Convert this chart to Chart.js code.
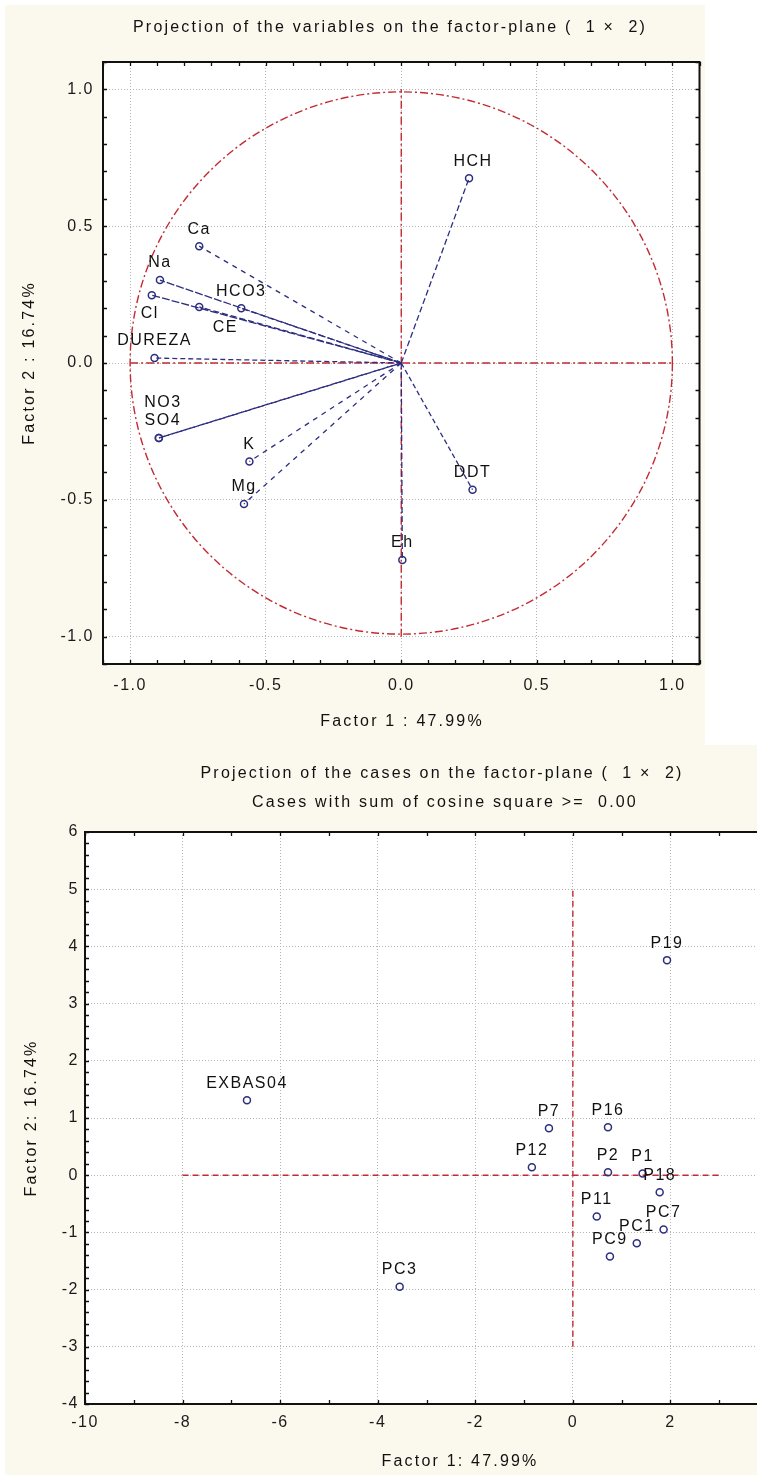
<!DOCTYPE html>
<html>
<head>
<meta charset="utf-8">
<script src="https://cdn.jsdelivr.net/npm/chart.js@4.4.1/dist/chart.umd.min.js"></script>
<style>
  html, body { margin: 0; padding: 0; background: #fff; width: 757px; height: 1475px; overflow: hidden; }
  .panel { position: absolute; background: #fbf9ee; }
  #p1 { left: 5px; top: 5px; width: 700px; height: 740px; }
  #p2 { left: 5px; top: 745px; width: 790px; height: 730px; }
  canvas { display: block; }
</style>
</head>
<body>
<div class="panel" id="p1"><canvas id="c1" width="700" height="740"></canvas></div>
<div class="panel" id="p2"><canvas id="c2" width="790" height="730"></canvas></div>
<script>
// ---- Variables: loadings on factor 1 and factor 2 ----
const varNames = ['HCH', 'Ca', 'Na', 'HCO3', 'Cl', 'CE', 'DUREZA', 'NO3', 'SO4', 'K', 'Mg', 'Eh', 'DDT'];
const varF1 = [0.25, -0.745, -0.89, -0.59, -0.92, -0.745, -0.91, -0.894, -0.894, -0.56, -0.58, 0.004, 0.263];
const varF2 = [0.675, 0.427, 0.303, 0.20, 0.248, 0.205, 0.018, -0.274, -0.274, -0.36, -0.515, -0.72, -0.463];
const loadTicks = [-1.0, -0.5, 0.0, 0.5, 1.0];
const loadRange = [-1.1, 1.1];
const unitCircleRadius = 1;
const loadAxisSpan = [-1, 1];

// ---- Cases: scores on factor 1 and factor 2 ----
const caseNames = ['P19', 'EXBAS04', 'P7', 'P16', 'P12', 'P2', 'P1', 'P18', 'P11', 'PC7', 'PC1', 'PC9', 'PC3'];
const caseF1 = [1.93, -6.68, -0.49, 0.72, -0.84, 0.72, 1.43, 1.78, 0.49, 1.86, 1.31, 0.76, -3.55];
const caseF2 = [3.76, 1.31, 0.82, 0.84, 0.14, 0.05, 0.03, -0.30, -0.72, -0.95, -1.19, -1.42, -1.95];
const scoreXTicks = [-10, -8, -6, -4, -2, 0, 2, 4];
const scoreYTicks = [-4, -3, -2, -1, 0, 1, 2, 3, 4, 5, 6];
const scoreXRange = [-10, 4];
const scoreYRange = [-4, 6];
const scoreHLine = [-8, 3];   // horizontal origin line, x from..to
const scoreVLine = [-3, 5];   // vertical origin line, y from..to

const FONT = '"Liberation Sans", Arial, sans-serif';
const NAVY = '#2c2e80';
const RED = '#c42a33';
const INK = '#111111';

// label placement (pixels, relative to the point)
const varLabelOffset = {
  HCH: [4, -17], Cl: [-2, 18], CE: [26, 21], NO3: [4, -35], SO4: [4, -17]
};
const varDash = {
  Na: [8, 2], Cl: [8, 2], HCO3: [6, 3], CE: [6, 3], NO3: [6, 3], SO4: [6, 3],
  Ca: [5, 5], K: [5, 5], Mg: [5, 5], HCH: [6, 3], DDT: [5, 3], Eh: [6, 3], DUREZA: [5, 3]
};
const varDashOffset = { SO4: 4.5 };

// white plot area + tick label letter spacing
const plotBg = {
  id: 'plotBg',
  beforeDraw(chart) {
    const { ctx, chartArea: a } = chart;
    ctx.save();
    ctx.fillStyle = '#ffffff';
    ctx.fillRect(a.left, a.top, a.right - a.left, a.bottom - a.top);
    ctx.restore();
    ctx.letterSpacing = '1.5px';
  }
};

// frame around the plot with inward minor ticks on all sides
const frame = {
  id: 'frame',
  afterDraw(chart, args, o) {
    const { ctx, chartArea: a, scales: { x, y } } = chart;
    ctx.save();
    ctx.strokeStyle = '#111';
    ctx.lineWidth = 1.3;
    ctx.beginPath();
    const sx = Math.ceil(x.min / o.xStep - 1e-6);
    const ex = Math.floor(x.max / o.xStep + 1e-6);
    for (let k = sx; k <= ex; k++) {
      const px = Math.round(x.getPixelForValue(k * o.xStep)) + 0.5;
      ctx.moveTo(px, a.top); ctx.lineTo(px, a.top + o.len);
      ctx.moveTo(px, a.bottom); ctx.lineTo(px, a.bottom - o.len);
    }
    const sy = Math.ceil(y.min / o.yStep - 1e-6);
    const ey = Math.floor(y.max / o.yStep + 1e-6);
    for (let k = sy; k <= ey; k++) {
      const py = Math.round(y.getPixelForValue(k * o.yStep)) + 0.5;
      ctx.moveTo(a.left, py); ctx.lineTo(a.left + o.len, py);
      ctx.moveTo(a.right, py); ctx.lineTo(a.right - o.len, py);
    }
    ctx.stroke();
    ctx.lineWidth = 2;
    ctx.strokeRect(a.left, a.top, a.right - a.left, a.bottom - a.top);
    ctx.restore();
  }
};

// red origin lines and (optionally) the unit circle
const refLines = {
  id: 'refLines',
  beforeDatasetsDraw(chart, args, o) {
    const { ctx, scales: { x, y } } = chart;
    ctx.save();
    ctx.strokeStyle = RED;
    ctx.lineWidth = o.width;
    ctx.setLineDash(o.dash);
    ctx.beginPath();
    ctx.moveTo(x.getPixelForValue(o.h[0]), y.getPixelForValue(0));
    ctx.lineTo(x.getPixelForValue(o.h[1]), y.getPixelForValue(0));
    ctx.stroke();
    ctx.beginPath();
    ctx.moveTo(x.getPixelForValue(0), y.getPixelForValue(o.v[0]));
    ctx.lineTo(x.getPixelForValue(0), y.getPixelForValue(o.v[1]));
    ctx.stroke();
    if (o.circle) {
      const cx = x.getPixelForValue(0), cy = y.getPixelForValue(0);
      const r = x.getPixelForValue(o.circle) - cx;
      ctx.beginPath();
      ctx.arc(cx, cy, r, 0, Math.PI * 2);
      ctx.stroke();
    }
    ctx.restore();
  }
};

// point names
const pointNames = {
  id: 'pointNames',
  afterDatasetsDraw(chart, args, o) {
    const { ctx } = chart;
    ctx.save();
    ctx.font = `16px ${FONT}`;
    ctx.letterSpacing = '1.5px';
    ctx.fillStyle = INK;
    ctx.textAlign = 'center';
    ctx.textBaseline = 'middle';
    o.items(chart).forEach(({ el, name }) => {
      const off = (o.offsets && o.offsets[name]) || [0, -17];
      ctx.fillText(name, el.x + off[0], el.y + off[1]);
    });
    ctx.restore();
  }
};

// titles and axis titles
const captions = {
  id: 'captions',
  afterDraw(chart, args, o) {
    const ctx = chart.ctx;
    o.items.forEach(it => {
      ctx.save();
      ctx.font = `16px ${FONT}`;
      ctx.letterSpacing = '2.2px';
      ctx.fillStyle = INK;
      ctx.textAlign = 'center';
      ctx.textBaseline = 'middle';
      ctx.translate(it.x, it.y);
      if (it.rotate) ctx.rotate(it.rotate);
      ctx.fillText(it.text, 0, 0);
      ctx.restore();
    });
  }
};

function axis(range, ticks, extra) {
  return Object.assign({
    type: 'linear',
    min: range[0],
    max: range[1],
    afterBuildTicks: s => { s.ticks = ticks.map(v => ({ value: v })); },
    grid: { color: '#b4b4b4', lineWidth: 1, drawTicks: false },
    border: { display: false, dash: [1, 2] }
  }, extra);
}

const tickFont = { family: FONT, size: 16 };

// ---- Chart 1: projection of the variables ----
new Chart(document.getElementById('c1'), {
  type: 'scatter',
  data: {
    datasets: varNames.map((n, i) => ({
      label: n,
      data: [{ x: 0, y: 0 }, { x: varF1[i], y: varF2[i] }],
      showLine: true,
      borderColor: NAVY,
      borderWidth: 1.3,
      borderDash: varDash[n] || [5, 3],
      borderDashOffset: varDashOffset[n] || 0,
      pointRadius: [0, 3.5],
      pointBorderColor: NAVY,
      pointBackgroundColor: 'rgba(0,0,0,0)',
      pointBorderWidth: 1.5
    }))
  },
  options: {
    responsive: false,
    devicePixelRatio: 1,
    animation: false,
    layout: { padding: { top: 57, right: 0, left: 0, bottom: 0 } },
    scales: {
      x: axis(loadRange, loadTicks, {
        afterFit: s => { s.height = 81; },
        ticks: { font: tickFont, color: '#1a1a1a', padding: 12, maxRotation: 0, callback: v => v.toFixed(1) }
      }),
      y: axis(loadRange, loadTicks, {
        afterFit: s => { s.width = 98; },
        ticks: { font: tickFont, color: '#1a1a1a', padding: 9, callback: v => v.toFixed(1) }
      })
    },
    plugins: {
      legend: { display: false },
      tooltip: { enabled: false },
      refLines: { h: loadAxisSpan, v: loadAxisSpan, circle: unitCircleRadius, dash: [8, 3, 2, 3], width: 1.4 },
      frame: { xStep: 0.1, yStep: 0.1, len: 4 },
      pointNames: {
        offsets: varLabelOffset,
        items: chart => chart.data.datasets.map((d, i) => ({ el: chart.getDatasetMeta(i).data[1], name: d.label }))
      },
      captions: {
        items: [
          { text: 'Projection of the variables on the factor-plane (  1 \u00d7  2)', x: 385, y: 23 },
          { text: 'Factor 1 : 47.99%', x: 397, y: 717 },
          { text: 'Factor 2 : 16.74%', x: 25, y: 358, rotate: -Math.PI / 2 }
        ]
      }
    }
  },
  plugins: [plotBg, refLines, pointNames, frame, captions]
});

// ---- Chart 2: projection of the cases ----
new Chart(document.getElementById('c2'), {
  type: 'scatter',
  data: {
    datasets: [{
      label: 'Cases',
      data: caseNames.map((n, i) => ({ x: caseF1[i], y: caseF2[i] })),
      pointRadius: 3.5,
      pointBorderColor: NAVY,
      pointBackgroundColor: 'rgba(0,0,0,0)',
      pointBorderWidth: 1.5
    }]
  },
  options: {
    responsive: false,
    devicePixelRatio: 1,
    animation: false,
    layout: { padding: { top: 87, right: 27, left: 0, bottom: 0 } },
    scales: {
      x: axis(scoreXRange, scoreXTicks, {
        afterFit: s => { s.height = 71; },
        ticks: { font: tickFont, color: '#1a1a1a', padding: 9, maxRotation: 0, callback: v => String(v) }
      }),
      y: axis(scoreYRange, scoreYTicks, {
        afterFit: s => { s.width = 80; },
        ticks: { font: tickFont, color: '#1a1a1a', padding: 6, callback: v => String(v) }
      })
    },
    plugins: {
      legend: { display: false },
      tooltip: { enabled: false },
      refLines: { h: scoreHLine, v: scoreVLine, circle: 0, dash: [6, 4], width: 1.4 },
      frame: { xStep: 1, yStep: 0.2, len: 4 },
      pointNames: {
        items: chart => chart.getDatasetMeta(0).data.map((el, i) => ({ el, name: caseNames[i] }))
      },
      captions: {
        items: [
          { text: 'Projection of the cases on the factor-plane (  1 \u00d7  2)', x: 437, y: 29 },
          { text: 'Cases with sum of cosine square >=  0.00', x: 440, y: 58 },
          { text: 'Factor 1: 47.99%', x: 455, y: 717 },
          { text: 'Factor 2: 16.74%', x: 27, y: 373, rotate: -Math.PI / 2 }
        ]
      }
    }
  },
  plugins: [plotBg, refLines, pointNames, frame, captions]
});
</script>
</body>
</html>
